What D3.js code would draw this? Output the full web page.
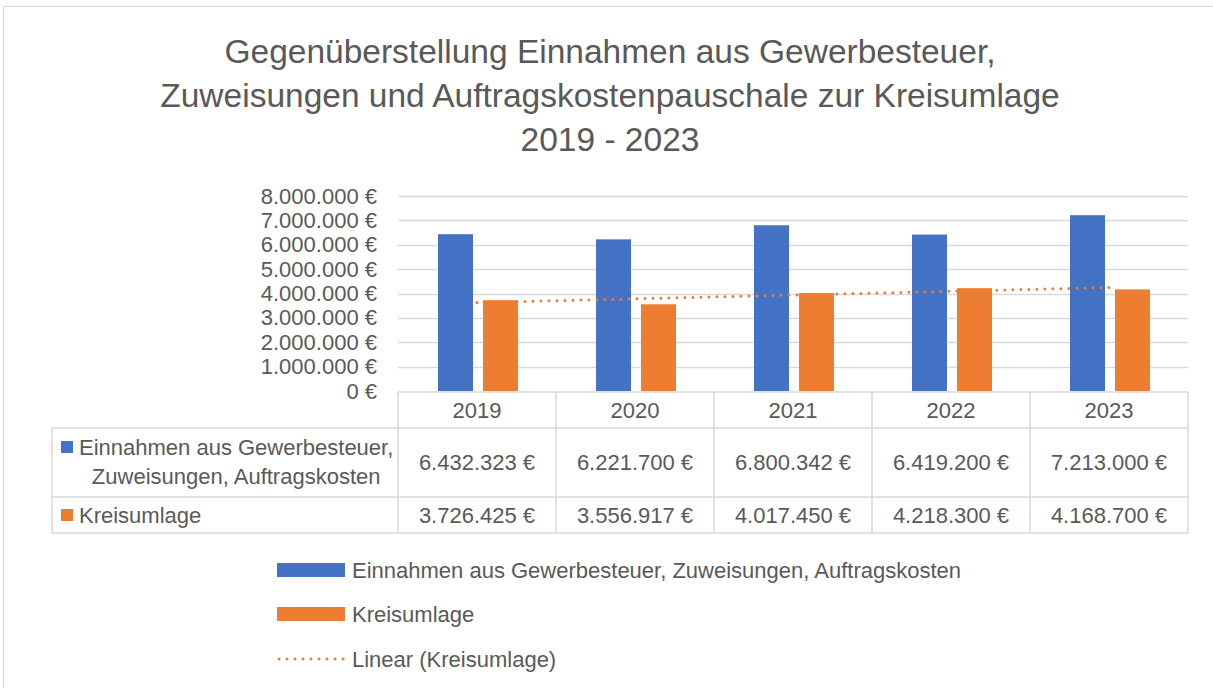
<!DOCTYPE html>
<html>
<head>
<meta charset="utf-8">
<script src="https://cdn.jsdelivr.net/npm/d3@7"></script>
<style>
  body { margin: 0; background: #fff; }
  svg text { font-family: "Liberation Sans", Arial, sans-serif; fill: #595959; }
</style>
</head>
<body>
<svg id="chart" width="1213" height="688"></svg>
<script>
// data
const years = ["2019", "2020", "2021", "2022", "2023"];
const einnahmen = [6432323, 6221700, 6800342, 6419200, 7213000];
const kreisumlage = [3726425, 3556917, 4017450, 4218300, 4168700];
const yTicks = [0, 1000000, 2000000, 3000000, 4000000, 5000000, 6000000, 7000000, 8000000];
const titleLines = [
    "Gegenüberstellung Einnahmen aus Gewerbesteuer,",
    "Zuweisungen und Auftragskostenpauschale zur Kreisumlage",
    "2019 - 2023"
];
const seriesNames = ["Einnahmen aus Gewerbesteuer, Zuweisungen, Auftragskosten", "Kreisumlage"];
const colors = ["#4472C4", "#ED7D31"];
const gridColor = "#D9D9D9";
const fontSize = "22px";

const svg = d3.select("#chart");

// german number format: 6.432.323 €
const de = d3.formatLocale({ decimal: ",", thousands: ".", grouping: [3], currency: ["", " €"] });
const fmt = v => de.format(",.0f")(v) + " €";

// chart frame
svg.append("rect")
    .attr("x", 3.5).attr("y", 6.5)
    .attr("width", 1220).attr("height", 700)
    .attr("fill", "none").attr("stroke", gridColor).attr("stroke-width", 1);

// title
svg.append("g").selectAll("text")
    .data(titleLines)
    .join("text")
    .attr("x", 610)
    .attr("y", (d, i) => 51 + i * 44)
    .attr("text-anchor", "middle")
    .attr("dominant-baseline", "central")
    .attr("font-size", "33.5px")
    .text(d => d);

// scales
const x = d3.scaleBand().domain(years).range([398, 1188]);
const xs = d3.scaleBand().domain([0, 1]).range([40, 120]).paddingInner(10 / 45);
const y = d3.scaleLinear().domain([0, 8000000]).range([391, 196]);

// gridlines
svg.append("g").selectAll("line")
    .data(yTicks.slice(1))
    .join("line")
    .attr("x1", 398).attr("x2", 1188)
    .attr("y1", d => Math.round(y(d)) + 0.5).attr("y2", d => Math.round(y(d)) + 0.5)
    .attr("stroke", gridColor).attr("stroke-width", 1.5);

// y axis labels
svg.append("g").selectAll("text")
    .data(yTicks)
    .join("text")
    .attr("x", 377)
    .attr("y", d => y(d))
    .attr("text-anchor", "end")
    .attr("dominant-baseline", "central")
    .attr("font-size", fontSize)
    .text(fmt);

// bars
const series = [einnahmen, kreisumlage];
series.forEach((vals, s) => {
    svg.append("g").selectAll("rect")
        .data(vals)
        .join("rect")
        .attr("x", (d, i) => x(years[i]) + xs(s))
        .attr("width", xs.bandwidth())
        .attr("y", d => y(d))
        .attr("height", d => y(0) - y(d))
        .attr("fill", colors[s]);
});

// linear trendline of Kreisumlage (least squares over 1..n)
const n = kreisumlage.length;
const mx = (n + 1) / 2;
const my = d3.mean(kreisumlage);
const slope = d3.sum(kreisumlage, (v, i) => (i + 1 - mx) * (v - my)) / d3.sum(kreisumlage, (v, i) => (i + 1 - mx) ** 2);
const trend = i => my + slope * (i + 1 - mx);
const cx = yr => x(yr) + x.bandwidth() / 2;
svg.append("line")
    .attr("x1", cx(years[0])).attr("y1", y(trend(0)))
    .attr("x2", cx(years[n - 1])).attr("y2", y(trend(n - 1)))
    .attr("stroke", colors[1]).attr("stroke-width", 3)
    .attr("stroke-linecap", "round").attr("stroke-dasharray", "0,8");

// data table
const tbl = svg.append("g").attr("stroke", gridColor).attr("stroke-width", 1.5);
const tTop = 392, r1 = 428, r2 = 497, tBot = 533, tLeft = 52;
[tTop].forEach(yy => tbl.append("line").attr("x1", 398).attr("x2", 1188).attr("y1", yy).attr("y2", yy));
[r1, r2, tBot].forEach(yy => tbl.append("line").attr("x1", tLeft).attr("x2", 1188).attr("y1", yy).attr("y2", yy));
tbl.append("line").attr("x1", tLeft).attr("x2", tLeft).attr("y1", r1).attr("y2", tBot);
tbl.selectAll("line.col")
    .data(years.concat(["end"]))
    .join("line")
    .attr("class", "col")
    .attr("x1", d => d === "end" ? 1188 : x(d))
    .attr("x2", d => d === "end" ? 1188 : x(d))
    .attr("y1", tTop).attr("y2", tBot);

// header years
svg.append("g").selectAll("text")
    .data(years)
    .join("text")
    .attr("x", cx)
    .attr("y", (tTop + r1) / 2)
    .attr("text-anchor", "middle")
    .attr("dominant-baseline", "central")
    .attr("font-size", fontSize)
    .text(d => d);

// table values
const rowCenters = [(r1 + r2) / 2, (r2 + tBot) / 2];
series.forEach((vals, s) => {
    svg.append("g").selectAll("text")
        .data(vals)
        .join("text")
        .attr("x", (d, i) => cx(years[i]))
        .attr("y", rowCenters[s])
        .attr("text-anchor", "middle")
        .attr("dominant-baseline", "central")
        .attr("font-size", fontSize)
        .text(fmt);
});

// row labels with keys
const rowLabelLines = [["Einnahmen aus Gewerbesteuer,", "Zuweisungen, Auftragskosten"], ["Kreisumlage"]];
const rowLabelY = [[447, 476], [515]];
rowLabelLines.forEach((lines, s) => {
    svg.append("rect")
        .attr("x", 61).attr("y", rowLabelY[s][0] - 6)
        .attr("width", 12).attr("height", 12)
        .attr("fill", colors[s]);
    const first = svg.append("text")
        .attr("x", 79).attr("y", rowLabelY[s][0])
        .attr("dominant-baseline", "central")
        .attr("font-size", fontSize)
        .text(lines[0]);
    const w = first.node().getComputedTextLength();
    lines.slice(1).forEach((ln, j) => {
        svg.append("text")
            .attr("x", 79 + w / 2).attr("y", rowLabelY[s][j + 1])
            .attr("text-anchor", "middle")
            .attr("dominant-baseline", "central")
            .attr("font-size", fontSize)
            .text(ln);
    });
});

// legend
const legend = svg.append("g");
const legendY = [570, 614, 659];
seriesNames.forEach((name, s) => {
    legend.append("rect")
        .attr("x", 277).attr("y", legendY[s] - 7)
        .attr("width", 68).attr("height", 14)
        .attr("fill", colors[s]);
    legend.append("text")
        .attr("x", 352).attr("y", legendY[s])
        .attr("dominant-baseline", "central")
        .attr("font-size", fontSize)
        .text(name);
});
legend.append("line")
    .attr("x1", 279).attr("x2", 345)
    .attr("y1", legendY[2]).attr("y2", legendY[2])
    .attr("stroke", colors[1]).attr("stroke-width", 3)
    .attr("stroke-linecap", "round").attr("stroke-dasharray", "0,8");
legend.append("text")
    .attr("x", 352).attr("y", legendY[2])
    .attr("dominant-baseline", "central")
    .attr("font-size", fontSize)
    .text("Linear (" + seriesNames[1] + ")");
</script>
</body>
</html>
